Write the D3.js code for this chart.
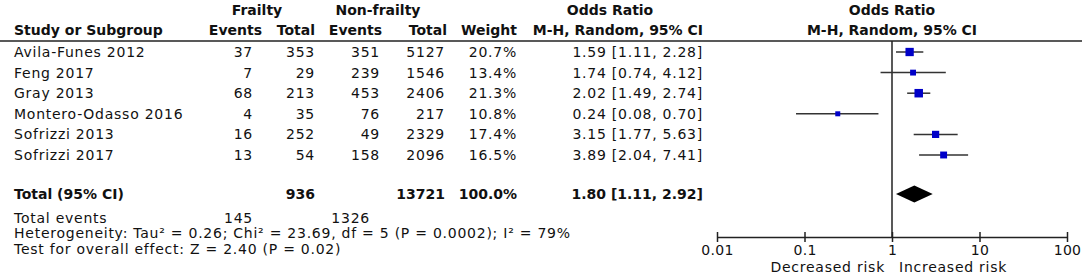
<!DOCTYPE html>
<html>
  <head>
    <script type="text/javascript" src="https://cdn.jsdelivr.net/npm/d3@7/dist/d3.min.js"></script>
    <style>
      body { margin: 0; background: #fff; }
      text { font-family: "DejaVu Sans", Verdana, sans-serif; font-size: 14px; letter-spacing: 0.75px; fill: #111; }
      .b { font-weight: bold; letter-spacing: 0px; }
    </style>
  </head>
  <body>
    <script type="text/javascript">
    // study rows
    var studies = ["Avila-Funes 2012", "Feng 2017", "Gray 2013", "Montero-Odasso 2016", "Sofrizzi 2013", "Sofrizzi 2017"];
    var frailEvents = [37, 7, 68, 4, 16, 13];
    var frailTotal = [353, 29, 213, 35, 252, 54];
    var nonEvents = [351, 239, 453, 76, 49, 158];
    var nonTotal = [5127, 1546, 2406, 217, 2329, 2096];
    var weights = [20.7, 13.4, 21.3, 10.8, 17.4, 16.5];
    var oddsRatio = [1.59, 1.74, 2.02, 0.24, 3.15, 3.89];
    var ciLow = [1.11, 0.74, 1.49, 0.08, 1.77, 2.04];
    var ciHigh = [2.28, 4.12, 2.74, 0.70, 5.63, 7.41];

    // pooled
    var totalOR = [1.80, 1.11, 2.92];
    var totalCounts = [936, 13721];
    var totalEvents = [145, 1326];
    var axisTicks = [0.01, 0.1, 1, 10, 100];

    var width = 1084, height = 276;
    var svg = d3.select('body').append('svg')
                .attr('width', width)
                .attr('height', height);

    var rowY = d3.scaleLinear().domain([0, 1]).range([52, 72.6]);
    var x = d3.scaleLog().domain([0.01, 100]).range([717, 1067]);
    var box = d3.scaleLinear().domain([10.8, 21.3]).range([5, 8.5]);

    function txt(xx, yy, s, anchor, cls) {
        return svg.append('text')
                  .attr('x', xx).attr('y', yy)
                  .attr('dy', '0.35em')
                  .attr('text-anchor', anchor || 'start')
                  .attr('class', cls || null)
                  .text(s);
    }
    function fmt(v) { return v.toFixed(2); }

    // headers
    txt(257, 10, 'Frailty', 'middle', 'b');
    txt(378, 10, 'Non-frailty', 'middle', 'b');
    txt(610, 10, 'Odds Ratio', 'middle', 'b');
    txt(x(1), 10, 'Odds Ratio', 'middle', 'b');
    txt(14, 30, 'Study or Subgroup', 'start', 'b');
    txt(262, 30, 'Events', 'end', 'b');
    txt(315, 30, 'Total', 'end', 'b');
    txt(382, 30, 'Events', 'end', 'b');
    txt(447, 30, 'Total', 'end', 'b');
    txt(517, 30, 'Weight', 'end', 'b');
    txt(703, 30, 'M-H, Random, 95% CI', 'end', 'b');
    txt(x(1), 30, 'M-H, Random, 95% CI', 'middle', 'b');

    svg.append('line')
       .attr('x1', 0).attr('x2', 1082)
       .attr('y1', 41).attr('y2', 41)
       .style('stroke', '#222').style('stroke-width', 1.5);

    // table rows
    studies.forEach(function(s, i) {
        var y = rowY(i);
        txt(14, y, s);
        txt(253, y, frailEvents[i], 'end');
        txt(315, y, frailTotal[i], 'end');
        txt(380, y, nonEvents[i], 'end');
        txt(445, y, nonTotal[i], 'end');
        txt(517, y, weights[i].toFixed(1) + '%', 'end');
        txt(703, y, fmt(oddsRatio[i]) + ' [' + fmt(ciLow[i]) + ', ' + fmt(ciHigh[i]) + ']', 'end');
    });

    var yTot = 194;
    txt(14, yTot, 'Total (95% CI)', 'start', 'b');
    txt(315, yTot, totalCounts[0], 'end', 'b');
    txt(445, yTot, totalCounts[1], 'end', 'b');
    txt(517, yTot, '100.0%', 'end', 'b');
    txt(703, yTot, fmt(totalOR[0]) + ' [' + fmt(totalOR[1]) + ', ' + fmt(totalOR[2]) + ']', 'end', 'b');

    txt(14, 218, 'Total events');
    txt(253, 218, totalEvents[0], 'end');
    txt(370, 218, totalEvents[1], 'end');
    txt(14, 233, 'Heterogeneity: Tau\u00b2 = 0.26; Chi\u00b2 = 23.69, df = 5 (P = 0.0002); I\u00b2 = 79%');
    txt(14, 249, 'Test for overall effect: Z = 2.40 (P = 0.02)');

    // forest plot
    svg.append('line')
       .attr('x1', x(1)).attr('x2', x(1))
       .attr('y1', 41).attr('y2', 237)
       .style('stroke', '#222').style('stroke-width', 1.5);

    var rows = svg.selectAll('g.study')
                  .data(studies)
                  .enter()
                  .append('g')
                  .attr('class', 'study');
    rows.append('line')
        .attr('x1', function(d, i) { return x(ciLow[i]); })
        .attr('x2', function(d, i) { return x(ciHigh[i]); })
        .attr('y1', function(d, i) { return rowY(i); })
        .attr('y2', function(d, i) { return rowY(i); })
        .style('stroke', '#333').style('stroke-width', 1.5);
    rows.append('rect')
        .attr('x', function(d, i) { return x(oddsRatio[i]) - box(weights[i]) / 2; })
        .attr('y', function(d, i) { return rowY(i) - box(weights[i]) / 2; })
        .attr('width', function(d, i) { return box(weights[i]); })
        .attr('height', function(d, i) { return box(weights[i]); })
        .style('fill', '#0000c8');

    svg.append('path')
       .attr('d', 'M' + x(totalOR[1]) + ',' + yTot +
                  'L' + x(totalOR[0]) + ',' + (yTot - 8.5) +
                  'L' + x(totalOR[2]) + ',' + yTot +
                  'L' + x(totalOR[0]) + ',' + (yTot + 8.5) + 'Z')
       .style('fill', '#000');

    // axis
    var axisY = 237;
    var ax = svg.append('g')
                .attr('transform', 'translate(0,' + axisY + ')')
                .call(d3.axisBottom(x).tickValues(axisTicks).tickSize(5).tickSizeOuter(0)
                        .tickFormat(function(d) { return String(d); }));
    ax.select('.domain').style('stroke', '#222').style('stroke-width', 1.5);
    ax.selectAll('.tick line').attr('y1', -5).attr('y2', 5)
      .style('stroke', '#222').style('stroke-width', 1.5);
    ax.selectAll('.tick text')
      .attr('y', 13).attr('dy', '0.35em')
      .style('font-size', '14px')
      .style('letter-spacing', '0.3px')
      .style('font-family', '"DejaVu Sans", Verdana, sans-serif')
      .style('fill', '#111');

    txt(x(1) - 7, 267, 'Decreased risk', 'end');
    txt(x(1) + 7, 267, 'Increased risk', 'start');
    </script>
  </body>
</html>
